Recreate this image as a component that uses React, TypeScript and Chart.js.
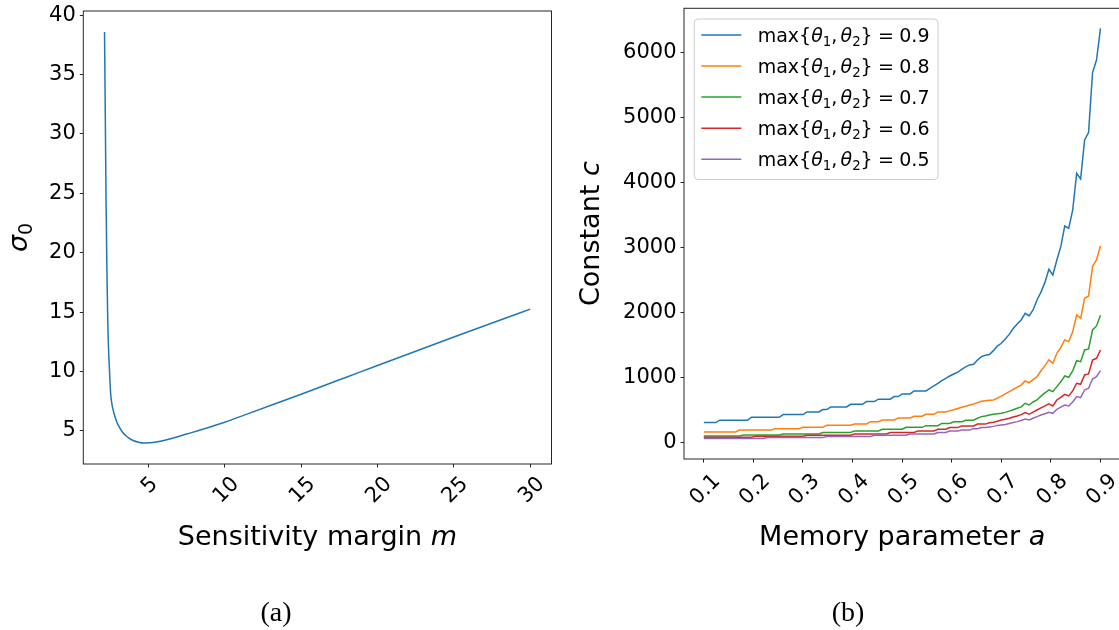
import React, { useEffect, useRef } from 'react';
import { Chart, registerables } from 'chart.js';

Chart.register(...registerables);

// ---------- (a) sensitivity margin ----------
const SENS_M = [2.13, 2.18, 2.23, 2.28, 2.34, 2.39, 2.44, 2.53, 2.62, 2.75, 2.9, 3.08, 3.3, 3.5, 3.73, 4.0, 4.35, 4.71, 5.1, 5.6, 6.2, 6.8, 7.5, 8.5, 10, 11.5, 13.3, 15, 16, 18, 20, 22.5, 25, 27.5, 30];
const SIGMA0 = [38.6, 31.5, 24.4, 19.0, 14.3, 12.0, 10.5, 8.15, 7.2, 6.47, 5.85, 5.34, 4.9, 4.62, 4.38, 4.18, 4.04, 3.97, 3.98, 4.07, 4.24, 4.45, 4.72, 5.1, 5.72, 6.42, 7.27, 8.08, 8.56, 9.53, 10.5, 11.7, 12.9, 14.08, 15.25];
const M_TICKS = [5, 10, 15, 20, 25, 30];
const SIGMA_TICKS = [5, 10, 15, 20, 25, 30, 35, 40];

// ---------- (b) memory parameter ----------
const MEMORY_A = [
  0.1, 0.108, 0.116, 0.124, 0.132, 0.14, 0.148, 0.156, 0.164, 0.172,
  0.18, 0.188, 0.196, 0.204, 0.212, 0.22, 0.228, 0.236, 0.244, 0.252,
  0.26, 0.268, 0.276, 0.284, 0.292, 0.3, 0.308, 0.316, 0.324, 0.332,
  0.34, 0.348, 0.356, 0.364, 0.372, 0.38, 0.388, 0.396, 0.404, 0.412,
  0.42, 0.428, 0.436, 0.444, 0.452, 0.46, 0.468, 0.476, 0.484, 0.492,
  0.5, 0.508, 0.516, 0.524, 0.532, 0.54, 0.548, 0.556, 0.564, 0.572,
  0.58, 0.588, 0.596, 0.604, 0.612, 0.62, 0.628, 0.636, 0.644, 0.652,
  0.66, 0.668, 0.676, 0.684, 0.692, 0.7, 0.708, 0.716, 0.724, 0.732,
  0.74, 0.748, 0.756, 0.764, 0.772, 0.78, 0.788, 0.796, 0.804, 0.812,
  0.82, 0.828, 0.836, 0.844, 0.852, 0.86, 0.868, 0.876, 0.884, 0.892,
  0.9,
];
const C_09 = [
  303, 303, 303, 303, 340, 340, 340, 340, 340, 340,
  340, 340, 385, 385, 385, 385, 385, 385, 385, 385,
  426, 426, 426, 426, 426, 426, 467, 467, 467, 467,
  503, 503, 544, 544, 544, 544, 544, 585, 585, 585,
  585, 626, 626, 626, 664, 664, 664, 664, 703, 703,
  744, 744, 744, 790, 790, 790, 790, 830, 867, 908,
  949, 985, 1020, 1050, 1080, 1123, 1160, 1190, 1200, 1267,
  1318, 1340, 1350, 1410, 1480, 1523, 1590, 1660, 1750, 1820,
  1882, 1985, 1944, 2036, 2190, 2310, 2460, 2662, 2574, 2805,
  3010, 3328, 3292, 3574, 4138, 4051, 4651, 4764, 5687, 5882,
  6369,
];
const C_08 = [
  158, 158, 158, 158, 158, 158, 158, 158, 158, 189,
  189, 189, 189, 189, 189, 189, 189, 189, 210, 210,
  210, 210, 210, 210, 210, 230, 230, 230, 230, 230,
  230, 261, 261, 261, 261, 261, 261, 261, 282, 282,
  282, 282, 318, 318, 318, 343, 343, 343, 343, 375,
  375, 375, 375, 400, 400, 400, 430, 430, 430, 465,
  465, 465, 487, 500, 520, 540, 555, 574, 590, 610,
  630, 640, 645, 651, 680, 710, 745, 780, 815, 850,
  880, 943, 918, 965, 1010, 1100, 1180, 1267, 1215, 1369,
  1460, 1574, 1549, 1700, 1959, 1908, 2215, 2251, 2703, 2805,
  3020,
];
const C_07 = [
  97, 97, 97, 97, 97, 97, 97, 97, 97, 97,
  113, 113, 113, 113, 113, 113, 113, 113, 113, 113,
  128, 128, 128, 128, 128, 128, 128, 128, 128, 128,
  150, 150, 150, 150, 150, 150, 150, 150, 175, 175,
  175, 175, 175, 175, 175, 200, 200, 200, 200, 200,
  200, 230, 230, 230, 230, 230, 256, 256, 256, 256,
  290, 290, 290, 315, 315, 315, 340, 340, 340, 370,
  395, 405, 420, 430, 440, 446, 460, 480, 500, 523,
  545, 600, 574, 620, 651, 710, 760, 805, 779, 856,
  930, 1020, 1000, 1100, 1256, 1241, 1420, 1436, 1728, 1790,
  1954,
];
const C_06 = [
  77, 77, 77, 77, 77, 77, 77, 77, 77, 77,
  77, 77, 77, 92, 92, 92, 92, 92, 92, 92,
  92, 92, 92, 92, 92, 92, 108, 108, 108, 108,
  108, 108, 108, 108, 108, 108, 108, 108, 128, 128,
  128, 128, 128, 128, 128, 128, 128, 150, 150, 150,
  150, 150, 150, 150, 175, 175, 175, 175, 175, 200,
  200, 200, 226, 226, 226, 250, 250, 250, 250, 280,
  280, 280, 300, 310, 325, 344, 355, 370, 390, 405,
  425, 456, 431, 465, 497, 530, 560, 590, 559, 651,
  690, 738, 713, 790, 908, 892, 1036, 1051, 1267, 1292,
  1420,
];
const C_05 = [
  58, 58, 58, 58, 58, 58, 58, 58, 58, 58,
  58, 58, 58, 58, 58, 58, 72, 72, 72, 72,
  72, 72, 72, 72, 72, 72, 72, 72, 72, 72,
  72, 90, 90, 90, 90, 90, 90, 90, 90, 90,
  90, 90, 90, 108, 108, 108, 108, 108, 108, 108,
  108, 108, 128, 128, 128, 128, 128, 128, 128, 150,
  150, 150, 174, 174, 174, 190, 190, 190, 210, 210,
  226, 226, 235, 245, 260, 267, 275, 290, 305, 318,
  335, 359, 344, 370, 395, 420, 440, 462, 446, 508,
  540, 574, 559, 620, 703, 687, 805, 831, 974, 1010,
  1103,
];
const THETA_MAX = [0.9, 0.8, 0.7, 0.6, 0.5];
const A_TICKS = [0.1, 0.2, 0.3, 0.4, 0.5, 0.6, 0.7, 0.8, 0.9];
const C_TICKS = [0, 1000, 2000, 3000, 4000, 5000, 6000];

const SERIES = [C_09, C_08, C_07, C_06, C_05];
const COLORS = ['#1f77b4', '#ff7f0e', '#2ca02c', '#d62728', '#9467bd'];

const FF = "'DejaVu Sans'";
const TICK_SIZE = 21;
const TITLE_SIZE = 27;

type Seg = { t: string; s: number; i?: boolean; dy?: number; dx?: number };

function segFont(s: Seg) {
  return `${s.i ? 'italic ' : ''}${s.s}px ${FF}`;
}
function richWidth(ctx: CanvasRenderingContext2D, segs: Seg[]) {
  let w = 0;
  for (const s of segs) {
    ctx.font = segFont(s);
    w += ctx.measureText(s.t).width + (s.dx || 0);
  }
  return w;
}
function drawRich(ctx: CanvasRenderingContext2D, segs: Seg[], x: number, y: number) {
  let cx = x;
  ctx.textAlign = 'left';
  ctx.textBaseline = 'alphabetic';
  for (const s of segs) {
    ctx.font = segFont(s);
    cx += s.dx || 0;
    ctx.fillText(s.t, cx, y + (s.dy || 0));
    cx += ctx.measureText(s.t).width;
  }
}

function legendSegs(v: number, F: number): Seg[] {
  return [
    { t: 'max', s: F },
    { t: '{', s: F },
    { t: 'θ', s: F, i: true },
    { t: '1', s: F * 0.7, dy: F * 0.2 },
    { t: ',', s: F },
    { t: 'θ', s: F, i: true, dx: F * 0.17 },
    { t: '2', s: F * 0.7, dy: F * 0.2 },
    { t: '}', s: F },
    { t: '=', s: F, dx: F * 0.28 },
    { t: v.toFixed(1), s: F, dx: F * 0.28 },
  ];
}

type DecorOpts = {
  xFmt: (v: number) => string;
  xTitle: Seg[];
  yTitle: Seg[];
  yTitleX: number;
  xTitleY: number;
  xLabelGap: number;
  caption: string;
  captionX: number;
  legend?: boolean;
};

function decorPlugin(o: DecorOpts) {
  return {
    id: 'decor',
    afterDraw(chart: any) {
      const ctx: CanvasRenderingContext2D = chart.ctx;
      const a = chart.chartArea;
      ctx.save();
      // legend
      if (o.legend) {
        const F = 19;
        const left = a.left + 10.3;
        const top = a.top + 10.7;
        let maxW = 0;
        chart.data.datasets.forEach((d: any) => {
          maxW = Math.max(maxW, richWidth(ctx, legendSegs(d.theta, F)));
        });
        const bw = 63.4 + maxW + 8.5;
        const bh = 160.5;
        ctx.beginPath();
        ctx.roundRect(left, top, bw, bh, 3.8);
        ctx.fillStyle = 'rgba(255,255,255,0.8)';
        ctx.fill();
        ctx.strokeStyle = '#cccccc';
        ctx.lineWidth = 1;
        ctx.stroke();
        chart.data.datasets.forEach((d: any, i: number) => {
          const cy = top + 16 + 31.05 * i;
          ctx.beginPath();
          ctx.moveTo(left + 7, cy);
          ctx.lineTo(left + 47, cy);
          ctx.strokeStyle = d.borderColor;
          ctx.lineWidth = 1.5;
          ctx.stroke();
          ctx.fillStyle = '#000';
          drawRich(ctx, legendSegs(d.theta, F), left + 63.4, cy + 6.7);
        });
      }
      // frame
      ctx.strokeStyle = '#262626';
      ctx.lineWidth = 1;
      ctx.strokeRect(a.left, a.top, a.right - a.left, a.bottom - a.top);
      // rotated x tick labels (centered under the tick)
      const xs = chart.scales.x;
      ctx.fillStyle = '#000';
      ctx.font = `${TICK_SIZE}px ${FF}`;
      const capH = TICK_SIZE * 0.729;
      for (const t of xs.ticks) {
        const lab = o.xFmt(t.value);
        const px = xs.getPixelForValue(t.value);
        const w = ctx.measureText(lab).width;
        const cy = a.bottom + o.xLabelGap + ((w + capH) * Math.SQRT1_2) / 2;
        ctx.save();
        ctx.translate(px, cy);
        ctx.rotate(-Math.PI / 4);
        ctx.textAlign = 'left';
        ctx.textBaseline = 'alphabetic';
        ctx.fillText(lab, -w / 2, capH / 2);
        ctx.restore();
      }
      // x title
      ctx.fillStyle = '#000';
      const xw = richWidth(ctx, o.xTitle);
      drawRich(ctx, o.xTitle, (a.left + a.right) / 2 - xw / 2, o.xTitleY);
      // y title (rotated)
      const yw = richWidth(ctx, o.yTitle);
      ctx.save();
      ctx.translate(o.yTitleX, (a.top + a.bottom) / 2);
      ctx.rotate(-Math.PI / 2);
      drawRich(ctx, o.yTitle, -yw / 2, 0);
      ctx.restore();
      // caption
      ctx.font = "28px 'Liberation Serif'";
      ctx.textAlign = 'center';
      ctx.textBaseline = 'alphabetic';
      ctx.fillText(o.caption, o.captionX, 621);
      ctx.restore();
    },
  };
}

function zeroPad(s: any) {
  s.paddingLeft = 0;
  s.paddingRight = 0;
  s.paddingTop = 0;
  s.paddingBottom = 0;
}

function axes(opts: {
  xMin: number; xMax: number; yMin: number; yMax: number;
  xTicks: number[]; yTicks: number[]; yWidth: number;
}) {
  return {
    x: {
      type: 'linear',
      min: opts.xMin,
      max: opts.xMax,
      afterBuildTicks: (s: any) => { s.ticks = opts.xTicks.map((v) => ({ value: v })); },
      afterFit: (s: any) => { s.height = 56; zeroPad(s); },
      ticks: { display: false },
      grid: { drawOnChartArea: false, drawTicks: true, tickLength: 3.5, tickColor: '#262626', tickWidth: 1 },
      border: { display: false },
    },
    y: {
      type: 'linear',
      min: opts.yMin,
      max: opts.yMax,
      afterBuildTicks: (s: any) => { s.ticks = opts.yTicks.map((v) => ({ value: v })); },
      afterFit: (s: any) => { s.width = opts.yWidth; zeroPad(s); },
      ticks: {
        color: '#000',
        padding: 4,
        font: { family: 'DejaVu Sans', size: TICK_SIZE },
        callback: (v: any) => String(v),
      },
      grid: { drawOnChartArea: false, drawTicks: true, tickLength: 3.5, tickColor: '#262626', tickWidth: 1 },
      border: { display: false },
    },
  };
}

export default function App() {
  const leftRef = useRef<HTMLCanvasElement>(null);
  const rightRef = useRef<HTMLCanvasElement>(null);

  useEffect(() => {
    const left = new Chart(leftRef.current as HTMLCanvasElement, {
      type: 'line',
      data: {
        datasets: [
          {
            data: SENS_M.map((m, i) => ({ x: m, y: SIGMA0[i] })),
            borderColor: '#1f77b4',
            borderWidth: 1.5,
            pointRadius: 0,
            cubicInterpolationMode: 'monotone',
            fill: false,
          } as any,
        ],
      },
      options: {
        responsive: false,
        animation: false,
        devicePixelRatio: 1,
        events: [],
        layout: { padding: { left: 0, top: 11, right: 8.5, bottom: 110 } },
        plugins: { legend: { display: false }, tooltip: { enabled: false } },
        scales: axes({
          xMin: 0.74, xMax: 31.39, yMin: 2.2, yMax: 40.36,
          xTicks: M_TICKS, yTicks: SIGMA_TICKS, yWidth: 83.3,
        }) as any,
      },
      plugins: [
        decorPlugin({
          xFmt: (v) => String(v),
          xTitle: [{ t: 'Sensitivity margin ', s: TITLE_SIZE }, { t: 'm', s: TITLE_SIZE, i: true }],
          yTitle: [{ t: 'σ', s: TITLE_SIZE, i: true }, { t: '0', s: 19, dy: 5 }],
          yTitleX: 27,
          xTitleY: 545,
          xLabelGap: 10,
          caption: '(a)',
          captionX: 276,
        }),
      ],
    });

    const right = new Chart(rightRef.current as HTMLCanvasElement, {
      type: 'line',
      data: {
        datasets: SERIES.map((s, i) => ({
          label: `max{θ₁, θ₂} = ${THETA_MAX[i]}`,
          theta: THETA_MAX[i],
          data: s.map((c, k) => ({ x: MEMORY_A[k], y: c })),
          borderColor: COLORS[i],
          borderWidth: 1.5,
          pointRadius: 0,
          tension: 0,
          fill: false,
          order: 5 - i,
        })) as any,
      },
      options: {
        responsive: false,
        animation: false,
        devicePixelRatio: 1,
        events: [],
        layout: { padding: { left: 0, top: 8.3, right: 9.7, bottom: 115 } },
        plugins: { legend: { display: false }, tooltip: { enabled: false } },
        scales: axes({
          xMin: 0.06, xMax: 0.94, yMin: -257, yMax: 6677,
          xTicks: A_TICKS, yTicks: C_TICKS, yWidth: 124,
        }) as any,
      },
      plugins: [
        decorPlugin({
          xFmt: (v) => v.toFixed(1),
          xTitle: [{ t: 'Memory parameter ', s: TITLE_SIZE }, { t: 'a', s: TITLE_SIZE, i: true }],
          yTitle: [{ t: 'Constant ', s: TITLE_SIZE }, { t: 'c', s: TITLE_SIZE, i: true }],
          yTitleX: 39,
          xTitleY: 545,
          xLabelGap: 12,
          caption: '(b)',
          captionX: 288,
          legend: true,
        }),
      ],
    });

    return () => {
      left.destroy();
      right.destroy();
    };
  }, []);

  return (
    <div
      style={{
        position: 'absolute',
        left: 0,
        top: 0,
        width: 1119,
        height: 630,
        overflow: 'hidden',
        background: '#fff',
      }}
    >
      <canvas
        ref={leftRef}
        width={560}
        height={630}
        style={{ position: 'absolute', left: 0, top: 0, width: 560, height: 630 }}
      />
      <canvas
        ref={rightRef}
        width={570}
        height={630}
        style={{ position: 'absolute', left: 560, top: 0, width: 570, height: 630 }}
      />
    </div>
  );
}
